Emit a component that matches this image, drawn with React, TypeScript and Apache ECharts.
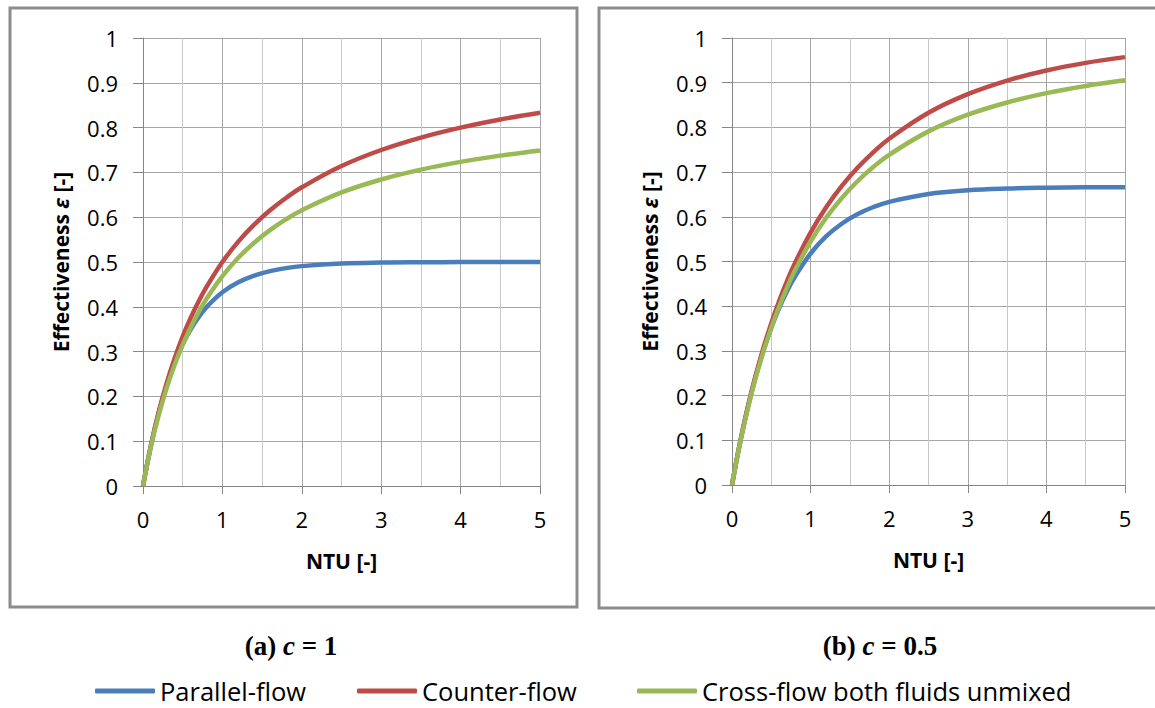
import React, { useEffect, useRef } from "react";
import * as echarts from "echarts";

const ntu = [0, 0.1, 0.2, 0.3, 0.4, 0.5, 0.6, 0.7, 0.8, 1.0, 1.2, 1.4, 1.6, 1.8, 2.0, 2.5, 3.0, 3.5, 4.0, 4.5, 5.0];

// (a) c = 1
const parallelA = [0, 0.0906, 0.1648, 0.2256, 0.2753, 0.3161, 0.3494, 0.3767, 0.3991, 0.4323, 0.4546, 0.4696, 0.4796, 0.4863, 0.4908, 0.4966, 0.4988, 0.4995, 0.4998, 0.4999, 0.5];
const counterA = [0, 0.0909, 0.1667, 0.2308, 0.2857, 0.3333, 0.375, 0.4118, 0.4444, 0.5, 0.5455, 0.5833, 0.6154, 0.6429, 0.6667, 0.7143, 0.75, 0.7778, 0.8, 0.8182, 0.8333];
const crossA = [0, 0.0881, 0.1597, 0.2199, 0.2712, 0.3154, 0.354, 0.3879, 0.4179, 0.4685, 0.5095, 0.5431, 0.5712, 0.595, 0.6154, 0.6552, 0.6842, 0.7062, 0.7235, 0.7374, 0.749];

// (b) c = 0.5
const parallelB = [0, 0.0929, 0.1728, 0.2416, 0.3008, 0.3518, 0.3956, 0.4334, 0.4659, 0.5179, 0.5565, 0.585, 0.6062, 0.6219, 0.6335, 0.651, 0.6593, 0.6632, 0.665, 0.6659, 0.6663];
const counterB = [0, 0.0931, 0.1739, 0.2446, 0.3069, 0.3622, 0.4117, 0.456, 0.4959, 0.5648, 0.6218, 0.6697, 0.7103, 0.7448, 0.7746, 0.8328, 0.8744, 0.9048, 0.9274, 0.9444, 0.9572];
const crossB = [0, 0.0916, 0.1701, 0.2385, 0.2987, 0.3519, 0.3994, 0.4417, 0.4797, 0.5447, 0.5983, 0.6428, 0.6801, 0.7118, 0.7387, 0.7911, 0.8284, 0.8558, 0.8766, 0.8926, 0.9053];

const seriesNames = ["Parallel-flow", "Counter-flow", "Cross-flow both fluids unmixed"];
const seriesColors = ["#4a7ebb", "#be4b48", "#98b954"];
const panelTitles = [
  { pre: "(a) ", italic: "c", post: " = 1" },
  { pre: "(b) ", italic: "c", post: " = 0.5" },
];
const xName = "NTU [-]";

const SANS = "'Open Sans', 'DejaVu Sans', sans-serif";
const SERIF = "'Liberation Serif', 'Times New Roman', serif";

export default function App() {
  const ref = useRef<HTMLDivElement>(null);
  useEffect(() => {
    if (!ref.current) return;
    const chart = echarts.init(ref.current, undefined, { renderer: "svg" });

    const grids = [
      { left: 143, top: 38, width: 397, height: 448 },
      { left: 732, top: 38, width: 393, height: 447 },
    ];

    const xAxis = grids.map((_, i) => ({
      type: "value",
      gridIndex: i,
      min: 0,
      max: 5,
      interval: 1,
      name: xName,
      nameLocation: "middle",
      nameGap: 64,
      nameTextStyle: { fontFamily: SANS, fontWeight: "bold", fontSize: 21, color: "#000" },
      axisLine: { show: true, lineStyle: { color: "#868686", width: 1 } },
      axisTick: { show: true, inside: false, length: 8, lineStyle: { color: "#868686" } },
      minorTick: { show: false, splitNumber: 2 },
      axisLabel: { fontFamily: SANS, fontSize: 22, color: "#000", margin: 22 },
      splitLine: { show: true, lineStyle: { color: "#a6a6a6", width: 1 } },
      minorSplitLine: { show: true, lineStyle: { color: "#c8c8c8", width: 1 } },
    }));

    const yAxis = grids.map((_, i) => ({
      type: "value",
      gridIndex: i,
      min: 0,
      max: 1,
      interval: 0.1,
      name: "{b|Effectiveness }{i|ε}{b| [-]}",
      nameLocation: "middle",
      nameGap: 72,
      nameRotate: 90,
      nameTextStyle: {
        rich: {
          b: { fontFamily: SANS, fontWeight: "bold", fontSize: 21, color: "#000" },
          i: { fontFamily: SANS, fontWeight: "bold", fontStyle: "italic", fontSize: 21, color: "#000" },
        },
      },
      axisLine: { show: true, lineStyle: { color: "#868686", width: 1 } },
      axisTick: { show: true, inside: false, length: 10, lineStyle: { color: "#868686" } },
      axisLabel: { fontFamily: SANS, fontSize: 22, color: "#000", margin: 25 },
      splitLine: { show: true, lineStyle: { color: "#a6a6a6", width: 1 } },
    }));

    const panelData = [
      [parallelA, counterA, crossA],
      [parallelB, counterB, crossB],
    ];
    const series: any[] = [];
    panelData.forEach((group, gi) => {
      group.forEach((vals, si) => {
        series.push({
          type: "line",
          name: seriesNames[si],
          xAxisIndex: gi,
          yAxisIndex: gi,
          data: ntu.map((x, k) => [x, vals[k]]),
          smooth: 0.4,
          showSymbol: false,
          symbol: "none",
          lineStyle: { color: seriesColors[si], width: 4.5 },
          itemStyle: { color: seriesColors[si] },
          z: 3,
        });
      });
    });

    const legendLefts = [90, 352, 632];
    const legend = seriesNames.map((n, i) => ({
      data: [n],
      left: legendLefts[i],
      top: 673,
      icon: "roundRect",
      itemWidth: 60,
      itemHeight: 5,
      textStyle: { fontFamily: SANS, fontSize: 25.5, color: "#000" },
      selectedMode: false,
    }));

    const graphic: any[] = [
      {
        type: "rect",
        shape: { x: 10, y: 8, width: 567, height: 599 },
        style: { fill: "none", stroke: "#8c8c8c", lineWidth: 3 },
        silent: true,
      },
      {
        type: "rect",
        shape: { x: 599, y: 8, width: 570, height: 600 },
        style: { fill: "none", stroke: "#8c8c8c", lineWidth: 3 },
        silent: true,
      },
    ];
    const titleCenters = [291, 880];
    panelTitles.forEach((t, i) => {
      graphic.push({
        type: "text",
        x: titleCenters[i],
        y: 646,
        style: {
          text: `{n|${t.pre}}{i|${t.italic}}{n|${t.post}}`,
          align: "center",
          verticalAlign: "middle",
          rich: {
            n: { fontFamily: SERIF, fontWeight: "bold", fontSize: 27, fill: "#000" },
            i: { fontFamily: SERIF, fontWeight: "bold", fontStyle: "italic", fontSize: 27, fill: "#000" },
          },
        },
      });
    });

    chart.setOption({
      animation: false,
      backgroundColor: "#ffffff",
      grid: grids,
      xAxis,
      yAxis,
      series,
      legend,
      graphic,
    });
    return () => chart.dispose();
  }, []);
  return (
    <div
      ref={ref}
      style={{ position: "fixed", left: 0, top: 0, width: 1155, height: 708, background: "#fff" }}
    />
  );
}
